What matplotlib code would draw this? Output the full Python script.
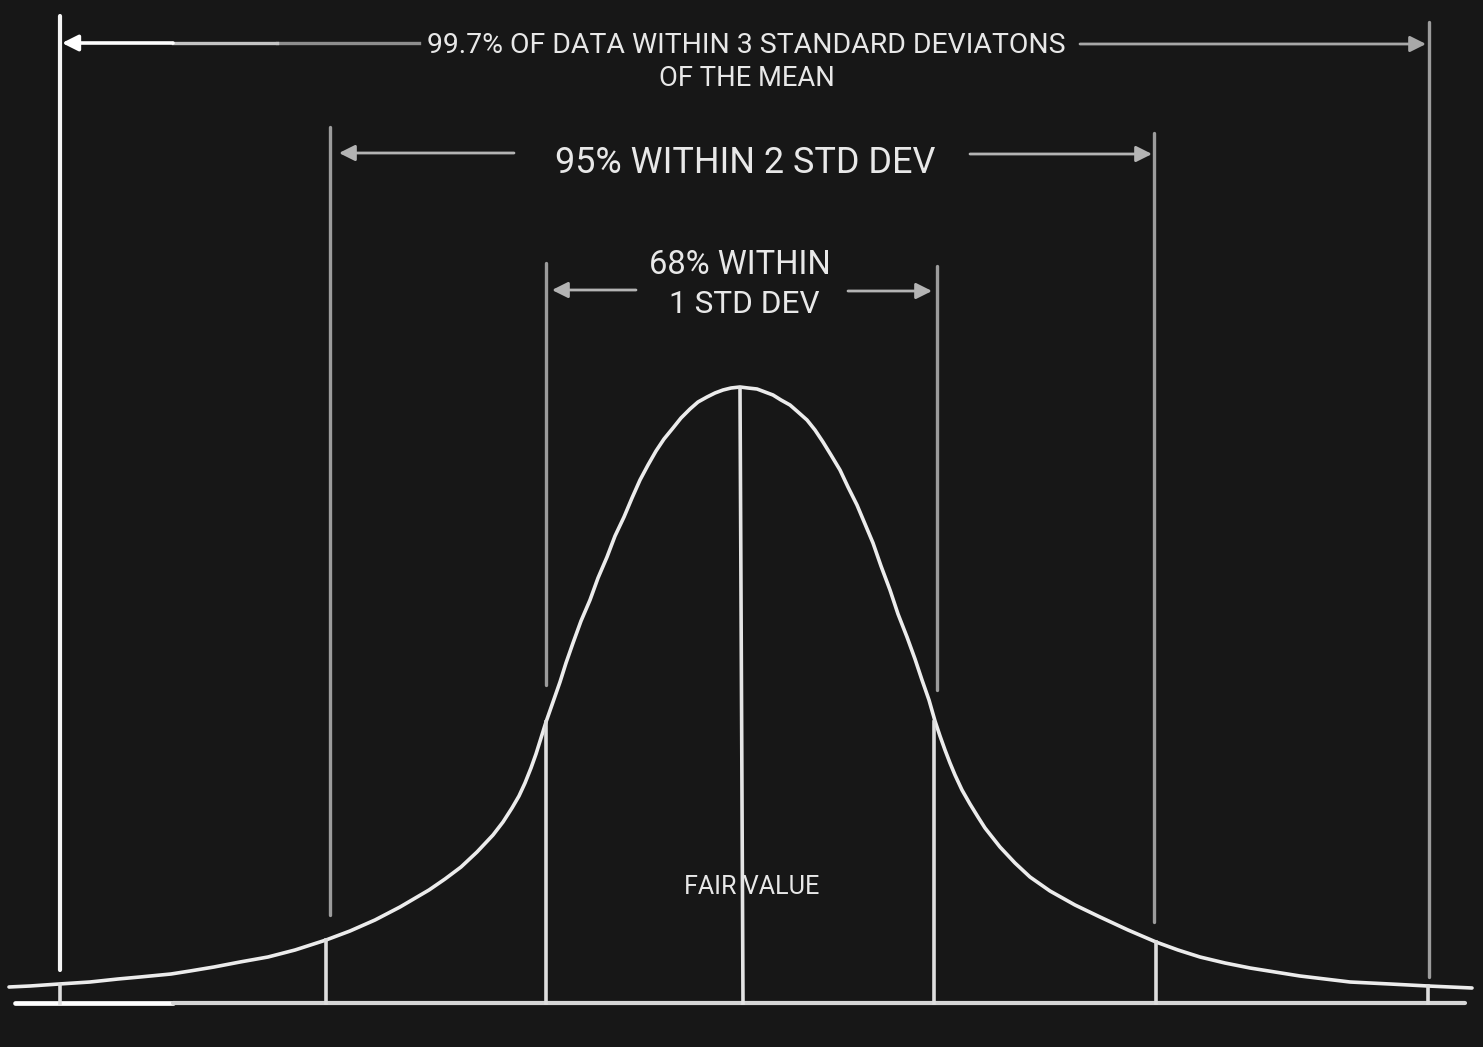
import matplotlib
matplotlib.use("Agg")
import matplotlib.pyplot as plt
from matplotlib import font_manager

# ---------------- data (pixel-like units, y downwards) ----
W, H = 1483, 1047
BG = "#171717"

# bell curve samples
curve_x = [9, 30, 59, 90, 118, 140, 171, 190, 214, 240, 268, 295, 326, 350, 375, 400,
           429, 445, 461, 477, 493, 503, 512, 519, 525, 531, 536, 541, 546,
           553, 560, 566, 573, 581, 590, 598, 607, 615, 624, 632, 640, 648, 656, 664,
           673, 681, 690, 698, 707, 715, 723, 731, 740, 748, 757, 765, 773, 781, 790,
           798, 807, 815, 823, 831, 840, 848, 857, 865, 873, 881, 890, 898, 907, 915,
           922, 929, 935, 940, 945, 950, 955, 962, 970, 978, 985, 1000, 1015, 1030,
           1050, 1075, 1100, 1128, 1156, 1178, 1200, 1225, 1250, 1275, 1300, 1325,
           1350, 1390, 1428, 1450, 1472]
curve_y = [987, 986, 984, 982, 979, 977, 974, 971, 967, 962, 957, 950, 940, 931, 920, 907,
           890, 879, 867, 852, 835, 822, 808, 796, 783, 768, 754, 738, 722,
           702, 682, 663, 643, 621, 600, 578, 557, 536, 517, 498, 480, 465, 451, 439,
           428, 418, 409, 402, 397, 393, 390, 388, 387, 388, 389, 392, 395, 400, 405,
           412, 420, 430, 442, 455, 470, 487, 505, 524, 543, 566, 590, 614, 637, 659,
           680, 700, 721, 736, 750, 763, 775, 790, 804, 817, 828, 847, 863, 877,
           891, 905, 917, 930, 942, 950, 957, 963, 968, 972, 976, 979,
           982, 984, 986, 987, 988]

# guide lines at -3..3 standard deviations
sigma_levels = [-3, -2, -1, 1, 2, 3]
upper_x = [60, 330, 546, 937, 1154, 1429]
upper_top = [16, 127, 263, 266, 133, 22]
upper_bottom = [970, 915, 685, 690, 922, 977]
lower_x = [60, 326, 546, 934, 1156, 1428]
lower_top = [985, 940, 722, 722, 942, 986]
baseline_y = 1003
baseline_x = [15, 1465]
mean_x = [740, 743]
mean_y = [388, 1003]

# range arrows
arrow_y = [43, 153, 290]
arrow_left_tip = [62, 339, 552]
arrow_left_end = [419, 514, 636]
arrow_right_start = [1080, 970, 848]
arrow_right_tip = [1426, 1152, 932]

# texts
text_lines = ["99.7% OF DATA WITHIN 3 STANDARD DEVIATONS", "OF THE MEAN",
              "95% WITHIN 2 STD DEV", "68% WITHIN", "1 STD DEV", "FAIR VALUE"]
text_cx = [746, 747, 745, 740, 744, 752]
text_cy = [43, 76, 160, 262, 302, 885]
text_w = [639, 176, 380, 182, 150, 135]

# ---------------- font ----------------
def pick_font(names):
    for n in names:
        try:
            font_manager.findfont(n, fallback_to_default=False)
            return n
        except Exception:
            continue
    return "DejaVu Sans"

FONT = pick_font(["Liberation Sans Narrow", "Roboto", "Open Sans"])
plt.rcParams["font.family"] = [FONT, "DejaVu Sans"]

# ---------------- figure ----------------
fig = plt.figure(figsize=(W / 100, H / 100), dpi=100, facecolor=BG)
ax = fig.add_axes([0, 0, 1, 1])
ax.set_facecolor(BG)
ax.set_xlim(0, W)
ax.set_ylim(H, 0)
ax.axis("off")

LINE = "#ececec"
GREY = "#9c9c9c"

# baseline
ax.plot([baseline_x[0], 173], [baseline_y, baseline_y], color="#ffffff", lw=3.4,
        solid_capstyle="round")
ax.plot([173, baseline_x[1]], [baseline_y, baseline_y], color="#d6d6d6", lw=3.0,
        solid_capstyle="round")

# curve
ax.plot(curve_x, curve_y, color=LINE, lw=2.6, solid_capstyle="round",
        solid_joinstyle="round")

# guide lines
for i, s in enumerate(sigma_levels):
    col = "#f4f4f4" if s == -3 else GREY
    lw = 3.0 if s == -3 else 2.4
    ax.plot([upper_x[i], upper_x[i]], [upper_top[i], upper_bottom[i]], color=col,
            lw=lw, solid_capstyle="round")
    ax.plot([lower_x[i], lower_x[i]], [lower_top[i], baseline_y], color="#dedede",
            lw=2.6)
ax.plot(mean_x, mean_y, color="#e4e4e4", lw=2.6)

# arrows
def arrow(x0, x1, y, color, lw=2.0):
    ax.annotate("", xy=(x1, y), xytext=(x0, y),
                arrowprops=dict(arrowstyle="-|>,head_length=0.6,head_width=0.3",
                                color=color, lw=lw, shrinkA=0, shrinkB=0,
                                mutation_scale=16))

for i in range(3):
    if i == 0:
        ax.plot([277, arrow_left_end[i]], [arrow_y[i]] * 2, color="#8e8e8e", lw=2.4)
        ax.plot([173, 277], [arrow_y[i]] * 2, color="#c4c4c4", lw=2.4)
        arrow(173, arrow_left_tip[i], arrow_y[i], "#ffffff", 2.6)
        arrow(arrow_right_start[i], arrow_right_tip[i], arrow_y[i] + 1, "#a8a8a8", 2.0)
    else:
        arrow(arrow_left_end[i], arrow_left_tip[i], arrow_y[i], "#b4b4b4", 2.0)
        arrow(arrow_right_start[i], arrow_right_tip[i], arrow_y[i] + 1, "#b4b4b4", 2.0)

# texts, fitted to their width in the reference
texts = []
for s, cx, cy in zip(text_lines, text_cx, text_cy):
    t = ax.text(cx, cy, s, ha="center", va="baseline", color="#e8e8e8",
                fontsize=20)
    texts.append(t)

for _ in range(3):
    fig.canvas.draw()
    r = fig.canvas.get_renderer()
    for t, w, cy in zip(texts, text_w, text_cy):
        bb = t.get_window_extent(renderer=r)
        fs = t.get_fontsize() * w / bb.width
        t.set_fontsize(fs)
        cap_px = 0.72 * fs * 100 / 72
        t.set_y(cy + cap_px / 2)

fig.savefig("out.png", dpi=100, facecolor=BG)
